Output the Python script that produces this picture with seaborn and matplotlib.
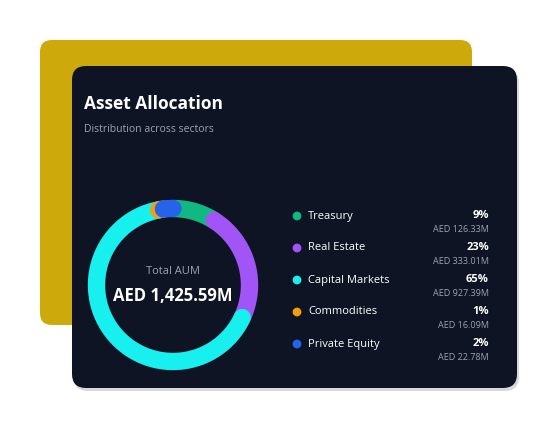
import numpy as np
import matplotlib.pyplot as plt
import seaborn as sns
from matplotlib.patches import FancyBboxPatch

sectors = ['Treasury', 'Real Estate', 'Capital Markets', 'Commodities', 'Private Equity']
shares = [9, 23, 65, 1, 2]
amounts = ['AED 126.33M', 'AED 333.01M', 'AED 927.39M', 'AED 16.09M', 'AED 22.78M']
colors = ['#10b981', '#a155f7', '#17f0ee', '#f59e0b', '#2563eb']
total_label = 'AED 1,425.59M'

sns.set_style('white')
plt.rcParams['font.family'] = ['Open Sans', 'DejaVu Sans']

fig = plt.figure(figsize=(5.58, 4.3), dpi=100)
ax = fig.add_axes([0, 0, 1, 1])
ax.set_xlim(0, 558)
ax.set_ylim(430, 0)
ax.axis('off')

# background cards
ax.add_patch(FancyBboxPatch((40, 40), 432, 285, boxstyle='round,pad=0,rounding_size=12',
                            fc='#cda90b', ec='none'))
ax.add_patch(FancyBboxPatch((74, 69), 445, 322, boxstyle='round,pad=0,rounding_size=14',
                            fc='#000000', ec='none', alpha=0.15))
ax.add_patch(FancyBboxPatch((72, 66), 445, 322, boxstyle='round,pad=0,rounding_size=14',
                            fc='#0e1424', ec='none'))

ax.text(84, 104, 'Asset Allocation', color='white', fontsize=12.5, fontweight='bold', va='center')
ax.text(84, 129, 'Distribution across sectors', color='#9aa3b5', fontsize=7.5, va='center')

# donut as thick arcs with round caps
cx, cy, r = 173, 285, 76.5
start = 0.0
for share, col in zip(shares, colors):
    t = np.linspace(start, start + share, 80) / 100 * 2 * np.pi
    ax.plot(cx + r * np.sin(t), cy - r * np.cos(t), color=col, lw=12.5,
            solid_capstyle='round')
    start += share

ax.text(cx, 272, 'Total AUM', color='#9aa3b5', fontsize=8, ha='center', va='center')
ax.text(cx, 296, total_label, color='white', fontsize=12, fontweight='bold', ha='center', va='center')

# legend
ys = [216 + 32 * i for i in range(len(sectors))]
sns.scatterplot(x=[297] * len(sectors), y=ys, hue=sectors, palette=colors, s=40,
                legend=False, ax=ax, edgecolor='none')
for y, name, share, amt in zip(ys, sectors, shares, amounts):
    ax.text(308, y, name, color='white', fontsize=8, va='center')
    ax.text(489, y, f'{share}%', color='white', fontsize=8, fontweight='bold', ha='right', va='center')
    ax.text(489, y + 13, amt, color='#9aa3b5', fontsize=6.5, ha='right', va='center')

ax.set_xlim(0, 558)
ax.set_ylim(430, 0)
fig.savefig('out.png', dpi=100, facecolor='white')
